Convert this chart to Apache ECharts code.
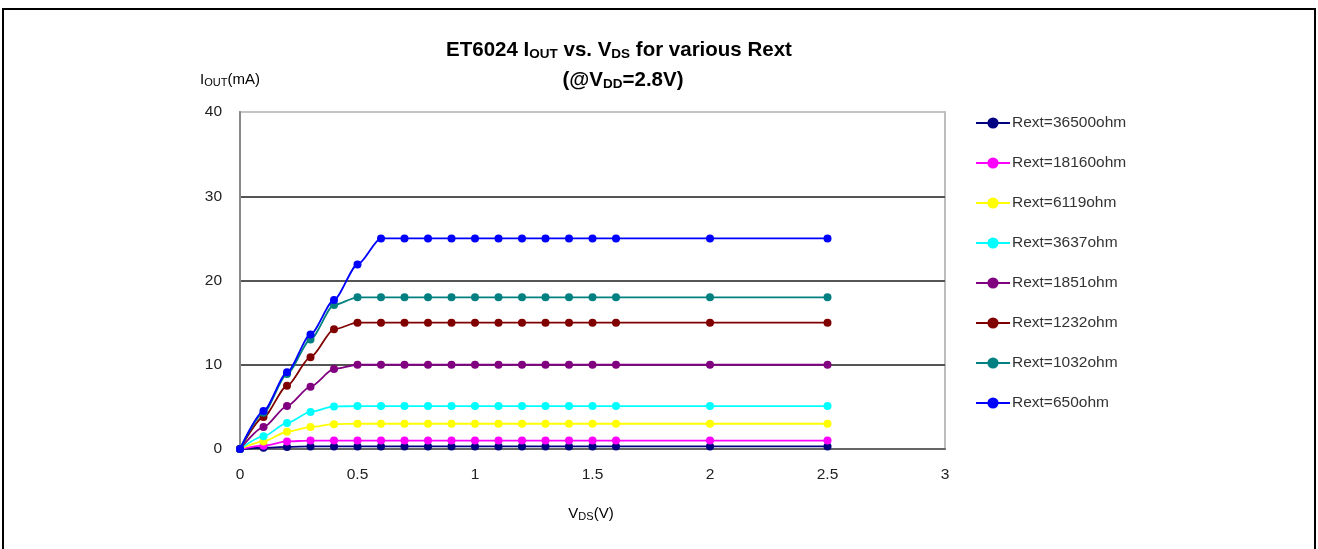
<!DOCTYPE html>
<html>
<head>
<meta charset="utf-8">
<script src="https://cdn.jsdelivr.net/npm/echarts@6/dist/echarts.min.js"></script>
<style>
html,body{margin:0;padding:0;background:#fff;overflow:hidden;}
#c{position:absolute;left:0;top:0;width:1318px;height:549px;}
#frame{position:absolute;left:2px;top:8px;width:1310px;height:600px;border:2px solid #000;border-bottom:none;pointer-events:none;}
</style>
</head>
<body>
<div id="c"></div>
<div id="frame"></div>
<script>
// ---- data ----
const vds = [0, 0.1, 0.2, 0.3, 0.4, 0.5, 0.6, 0.7, 0.8, 0.9, 1.0, 1.1, 1.2, 1.3, 1.4, 1.5, 1.6, 2.0, 2.5];
const seriesNames = ['Rext=36500ohm','Rext=18160ohm','Rext=6119ohm','Rext=3637ohm','Rext=1851ohm','Rext=1232ohm','Rext=1032ohm','Rext=650ohm'];
const r36500 = [0, 0.15, 0.25, 0.3, 0.3, 0.3, 0.3, 0.3, 0.3, 0.3, 0.3, 0.3, 0.3, 0.3, 0.3, 0.3, 0.3, 0.3, 0.3];
const r18160 = [0, 0.4, 0.9, 1.0, 1.0, 1.0, 1.0, 1.0, 1.0, 1.0, 1.0, 1.0, 1.0, 1.0, 1.0, 1.0, 1.0, 1.0, 1.0];
const r6119  = [0, 0.9, 2.05, 2.6, 2.95, 3.0, 3.0, 3.0, 3.0, 3.0, 3.0, 3.0, 3.0, 3.0, 3.0, 3.0, 3.0, 3.0, 3.0];
const r3637  = [0, 1.5, 3.1, 4.4, 5.05, 5.1, 5.1, 5.1, 5.1, 5.1, 5.1, 5.1, 5.1, 5.1, 5.1, 5.1, 5.1, 5.1, 5.1];
const r1851  = [0, 2.6, 5.1, 7.4, 9.5, 10, 10, 10, 10, 10, 10, 10, 10, 10, 10, 10, 10, 10, 10];
const r1232  = [0, 3.8, 7.5, 10.9, 14.2, 15, 15, 15, 15, 15, 15, 15, 15, 15, 15, 15, 15, 15, 15];
const r1032  = [0, 4.3, 8.9, 13.0, 17.1, 18, 18, 18, 18, 18, 18, 18, 18, 18, 18, 18, 18, 18, 18];
const r650   = [0, 4.5, 9.1, 13.6, 17.7, 21.9, 25, 25, 25, 25, 25, 25, 25, 25, 25, 25, 25, 25, 25];
const allValues = [r36500, r18160, r6119, r3637, r1851, r1232, r1032, r650];
const colors = ['#000080','#FF00FF','#FFFF00','#00FFFF','#800080','#800000','#008080','#0000FF'];
const xTicks = ['0','0.5','1','1.5','2','2.5','3'];
const yTicks = ['0','10','20','30','40'];

const FONT = '"Liberation Sans", Arial, sans-serif';
const chart = echarts.init(document.getElementById('c'), null, {renderer:'canvas'});

const series = seriesNames.map((n, i) => ({
  name: n,
  type: 'line',
  data: vds.map((x, k) => [x, allValues[i][k]]),
  smooth: 0.25,
  smoothMonotone: 'x',
  symbol: 'circle',
  symbolSize: 8,
  showSymbol: true,
  lineStyle: {width: 1.8, color: colors[i]},
  itemStyle: {color: colors[i]},
  z: 3 + i,
  animation: false
}));

const big = {fontSize: 20.5, fontWeight: 'bold', fontFamily: FONT, color: '#222'};
const sub = {fontSize: 13.5, fontWeight: 'bold', fontFamily: FONT, color: '#222', verticalAlign: 'bottom', padding:[8,0,0,0]};
const nm = {fontSize: 15, fontFamily: FONT, color: '#333'};
const nmSub = {fontSize: 11, fontFamily: FONT, color: '#333', verticalAlign:'bottom', padding:[6,0,0,0]};

chart.setOption({
  animation: false,
  backgroundColor: '#fff',
  grid: {left: 240, right: 373, top: 112, bottom: 100, show: true, borderColor: '#bdbdbd', borderWidth: 2, backgroundColor: 'transparent'},
  xAxis: {
    type: 'value', min: 0, max: 3, interval: 0.5,
    axisLine: {show: true, lineStyle: {color: '#666', width: 2}},
    axisTick: {show: false},
    splitLine: {show: false},
    axisLabel: {color: '#222', fontSize: 15.5, fontFamily: FONT, margin: 18,
      formatter: v => xTicks[Math.round(v * 2)] }
  },
  yAxis: {
    type: 'value', min: 0, max: 40, interval: 10,
    axisLine: {show: true, lineStyle: {color: '#888', width: 2}},
    axisTick: {show: false},
    splitLine: {show: true, lineStyle: {color: ['#666','#555','#555','#555','#c4c4c4'], width: 2}},
    axisLabel: {color: '#222', fontSize: 15.5, fontFamily: FONT, margin: 18,
      formatter: v => yTicks[Math.round(v / 10)] }
  },
  legend: {
    orient: 'vertical', left: 970, top: 110,
    itemWidth: 34, itemHeight: 14, itemGap: 24,
    textStyle: {fontSize: 15.5, fontFamily: FONT, color: '#333', padding: [0,0,0,-3]},
    data: seriesNames
  },
  graphic: [
    {type: 'text', x: 619, y: 50, style: {
      align: 'center', verticalAlign: 'middle',
      text: '{b|ET6024 I}{s|OUT}{b| vs. V}{s|DS}{b| for various Rext}',
      rich: {b: big, s: sub}
    }},
    {type: 'text', x: 623, y: 80, style: {
      align: 'center', verticalAlign: 'middle',
      text: '{b|(@V}{s|DD}{b|=2.8V)}',
      rich: {b: big, s: sub}
    }},
    {type: 'text', x: 200, y: 80, style: {
      align: 'left', verticalAlign: 'middle',
      text: '{a|I}{s|OUT}{a|(mA)}',
      rich: {a: nm, s: nmSub}
    }},
    {type: 'text', x: 591, y: 514, style: {
      align: 'center', verticalAlign: 'middle',
      text: '{a|V}{s|DS}{a|(V)}',
      rich: {a: nm, s: nmSub}
    }}
  ],
  series: series
});
</script>
</body>
</html>
